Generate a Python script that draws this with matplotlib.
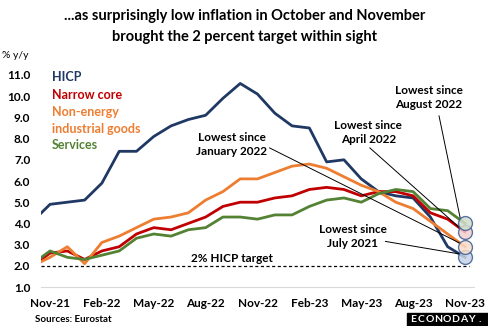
import matplotlib.pyplot as plt
import numpy as np

plt.rcParams["font.family"] = ["Lato", "DejaVu Sans"]

# monthly, Oct-21 .. Nov-23 (month index 0 = Nov-21)
months = np.arange(-1, 25)

hicp = [4.1, 4.9, 5.0, 5.1, 5.9, 7.4, 7.4, 8.1, 8.6, 8.9, 9.1, 9.9, 10.6,
        10.1, 9.2, 8.6, 8.5, 6.9, 7.0, 6.1, 5.5, 5.3, 5.2, 4.3, 2.9, 2.4]
core = [2.0, 2.6, 2.7, 2.3, 2.7, 2.9, 3.5, 3.8, 3.7, 4.0, 4.3, 4.8, 5.0,
        5.0, 5.2, 5.3, 5.6, 5.7, 5.6, 5.3, 5.5, 5.5, 5.3, 4.5, 4.2, 3.6]
neig = [2.0, 2.4, 2.9, 2.1, 3.1, 3.4, 3.8, 4.2, 4.3, 4.5, 5.1, 5.5, 6.1,
        6.1, 6.4, 6.7, 6.8, 6.6, 6.2, 5.8, 5.5, 5.0, 4.7, 4.1, 3.5, 2.9]
services = [2.1, 2.7, 2.4, 2.3, 2.5, 2.7, 3.3, 3.5, 3.4, 3.7, 3.8, 4.3, 4.3,
            4.2, 4.4, 4.4, 4.8, 5.1, 5.2, 5.0, 5.4, 5.6, 5.5, 4.7, 4.6, 4.0]

tick_months = [0, 3, 6, 9, 12, 15, 18, 21, 24]
tick_labels = ["Nov-21", "Feb-22", "May-22", "Aug-22", "Nov-22",
               "Feb-23", "May-23", "Aug-23", "Nov-23"]

target = 2.0

series = [
    ("HICP", hicp, "#1f3864", "#c7d3e6"),
    ("Narrow core", core, "#c00000", "#f3cfcf"),
    ("Non-energy\nindustrial goods", neig, "#ed7d31", "#f9dcc9"),
    ("Services", services, "#548235", "#d0dcc9"),
]

fig = plt.figure(figsize=(4.89, 3.26), dpi=100)
ax = fig.add_axes([41.4 / 489, 39 / 326, 432.2 / 489, 212 / 326])

for name, vals, col, fill in series:
    ax.plot(months, vals, color=col, lw=2.0, solid_joinstyle="round")

# target line
ax.axhline(target, xmin=0, xmax=0.99, color="black", lw=0.9, ls=(0, (2.5, 2)))
ax.text(10.5, target + 0.08, "2% HICP target", ha="center", va="bottom",
        fontsize=8.5, fontweight="bold")

# pointer lines to the latest readings
notes = [
    ("Lowest since\nJanuary 2022", (10.5, 7.74), (12.7, 7.56), neig),
    ("Lowest since\nApril 2022", (18.4, 8.27), (18.5, 7.56), core),
    ("Lowest since\nAugust 2022", (21.9, 9.93), (22.5, 9.07), services),
    ("Lowest since\nJuly 2021", (17.5, 3.39), (19.4, 3.15), hicp),
]
for txt, pos, start, vals in notes:
    ax.text(pos[0], pos[1], txt, ha="center", va="center", fontsize=8.5,
            fontweight="bold", linespacing=1.35)
    ax.plot([start[0], 23.75], [start[1], vals[-1] + 0.15], color="black",
            lw=0.7)

for name, vals, col, fill in series:
    ax.plot(months[-1], vals[-1], "o", ms=10, mfc=fill, mec="#3d5f94",
            mew=1.0, alpha=0.85)

# legend as coloured labels
leg_y = [10.92, 10.07, 8.86, 7.70]
for (name, vals, col, fill), y in zip(series, leg_y):
    ax.text(0.1, y, name, color=col, fontsize=9, fontweight="bold",
            va="center", linespacing=1.5)

ax.set_xlim(-0.5, 24.5)
ax.set_ylim(1.0, 11.0)
ax.set_yticks(np.arange(1, 12, 1))
ax.set_yticklabels([f"{v:.1f}" for v in np.arange(1, 12, 1)])
ax.set_xticks(tick_months)
ax.set_xticklabels(tick_labels)
ax.tick_params(length=0, labelsize=8.5, pad=8)
for lab in ax.get_xticklabels() + ax.get_yticklabels():
    lab.set_fontweight("bold")

for s in ["top", "right", "left"]:
    ax.spines[s].set_visible(False)
ax.spines["bottom"].set_color("#d9d9d9")
ax.spines["bottom"].set_linewidth(0.8)

fig.text(0.5, 1 - 16 / 326, "...as surprisingly low inflation in October and November",
         ha="center", va="center", fontsize=10.5, fontweight="bold")
fig.text(0.5, 1 - 37 / 326, "brought the 2 percent target within sight",
         ha="center", va="center", fontsize=10.5, fontweight="bold")
fig.text(2 / 489, 1 - 55 / 326, "% y/y", ha="left", va="center", fontsize=7.5)
fig.text(35 / 489, 1 - 319 / 326, "Sources: Eurostat", ha="left", va="center",
         fontsize=7, fontweight="bold")

# logo box
fig.patches.append(plt.Rectangle((407 / 489, 0), 82 / 489, 13 / 326,
                                 transform=fig.transFigure, color="black"))
for i, ch in enumerate("ECONODAY."):
    fig.text((413 + i * 8.4) / 489, 6.5 / 326, ch, color="white", ha="center",
             va="center", fontsize=7.5, fontweight="bold")

fig.savefig("out.png", dpi=100)
